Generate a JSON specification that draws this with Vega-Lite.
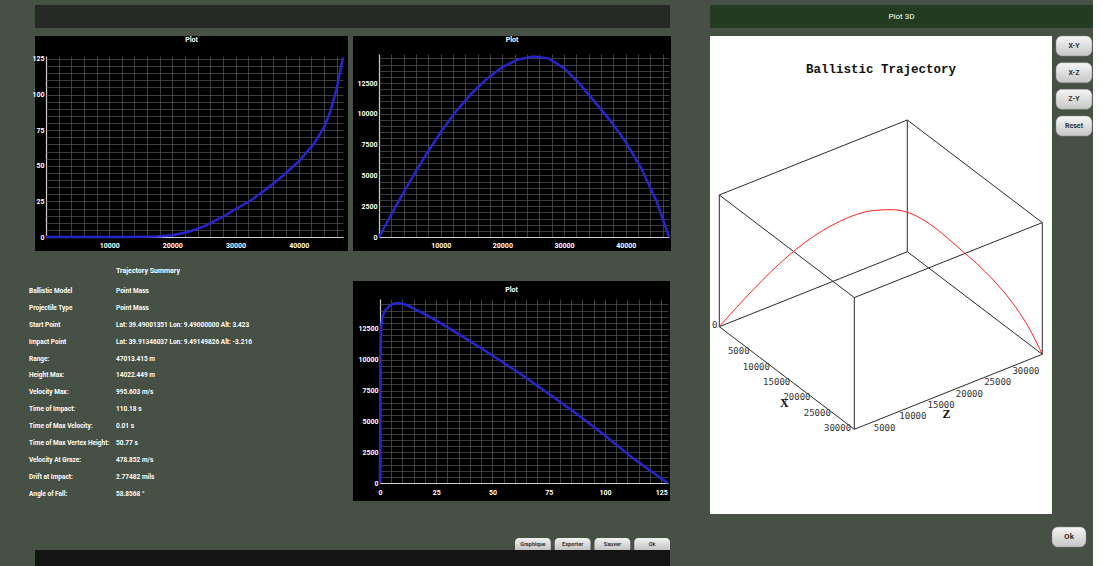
{
  "$schema": "https://vega.github.io/schema/vega-lite/v6.json",
  "background": "#465045",
  "padding": {"left": 29, "top": 5, "right": 0, "bottom": 0},
  "config": {
    "font": "Roboto",
    "view": {"stroke": null},
    "axis": {"labelColor": "#ffffff", "labelFontSize": 7, "labelFontWeight": "bold", "domain": false, "grid": false,
      "tickColor": {"condition": {"test": "datum.value === 0", "value": "#d0d0d0"}, "value": "#575757"},
      "tickWidth": {"condition": {"test": "datum.value === 0", "value": 1.2}, "value": 0.7},
      "labelOverlap": false, "labelFlush": false},
    "title": {"color": "#ffffff", "fontSize": 7, "fontWeight": "bold"}
  },
  "datasets": {
    "p1": [
      {"range": 0, "v": 0}, {"range": 2500, "v": 0}, {"range": 5000, "v": 0}, {"range": 7500, "v": 0}, {"range": 10000, "v": 0},
      {"range": 12500, "v": 0}, {"range": 15000, "v": 0.1}, {"range": 17500, "v": 0.4}, {"range": 20000, "v": 1.2}, {"range": 22500, "v": 3.5},
      {"range": 25000, "v": 7.5}, {"range": 27500, "v": 13}, {"range": 30000, "v": 19.5}, {"range": 32500, "v": 26}, {"range": 35000, "v": 34},
      {"range": 37500, "v": 43}, {"range": 40000, "v": 53}, {"range": 42500, "v": 66}, {"range": 44000, "v": 77}, {"range": 45000, "v": 88},
      {"range": 46000, "v": 104}, {"range": 47013, "v": 126}
    ],
    "p2": [
      {"range": 0, "alt": 0}, {"range": 2500, "alt": 2300}, {"range": 5000, "alt": 4500}, {"range": 7500, "alt": 6600}, {"range": 10000, "alt": 8500},
      {"range": 12500, "alt": 10200}, {"range": 15000, "alt": 11650}, {"range": 17500, "alt": 12850}, {"range": 20000, "alt": 13800}, {"range": 22500, "alt": 14400},
      {"range": 25000, "alt": 14650}, {"range": 27500, "alt": 14500}, {"range": 30000, "alt": 13700}, {"range": 32500, "alt": 12450}, {"range": 35000, "alt": 10950},
      {"range": 37500, "alt": 9450}, {"range": 40000, "alt": 7700}, {"range": 42500, "alt": 5600}, {"range": 45000, "alt": 2900}, {"range": 47013, "alt": 0}
    ],
    "p3": [
      {"t": 0, "alt": 0}, {"t": 0.1, "alt": 5500}, {"t": 0.25, "alt": 11000}, {"t": 0.5, "alt": 12600}, {"t": 1, "alt": 13400},
      {"t": 2, "alt": 13950}, {"t": 4, "alt": 14350}, {"t": 6, "alt": 14550}, {"t": 8, "alt": 14600}, {"t": 10, "alt": 14550},
      {"t": 12.5, "alt": 14400}, {"t": 15, "alt": 14150}, {"t": 20, "alt": 13700}, {"t": 25, "alt": 13180}, {"t": 37.5, "alt": 11800},
      {"t": 50, "alt": 10350}, {"t": 62.5, "alt": 8850}, {"t": 75, "alt": 7250}, {"t": 87.5, "alt": 5600}, {"t": 100, "alt": 3850},
      {"t": 112.5, "alt": 2000}, {"t": 127.8, "alt": 0}
    ],
    "summary": [
      {"label": "Ballistic Model", "value": "Point Mass"},
      {"label": "Projectile Type", "value": "Point Mass"},
      {"label": "Start Point", "value": "Lat: 39.49001351  Lon: 9.49000000  Alt: 3.423"},
      {"label": "Impact Point", "value": "Lat: 39.91346037  Lon: 9.49149826  Alt: -3.216"},
      {"label": "Range:", "value": "47013.415 m"},
      {"label": "Height Max:", "value": "14022.449 m"},
      {"label": "Velocity Max:", "value": "995.603 m/s"},
      {"label": "Time of Impact:", "value": "110.18 s"},
      {"label": "Time of Max Velocity:", "value": "0.01 s"},
      {"label": "Time of Max Vertex Height:", "value": "50.77 s"},
      {"label": "Velocity At Graze:", "value": "478.852 m/s"},
      {"label": "Drift at Impact:", "value": "2.77482 mils"},
      {"label": "Angle of Fall:", "value": "58.8568 °"}
    ],
    "box3d": [
      {"edge": "e1", "X": 0, "Y": 0, "Z": 0}, {"edge": "e1", "X": 33243, "Y": 0, "Z": 0},
      {"edge": "e2", "X": 33243, "Y": 0, "Z": 0}, {"edge": "e2", "X": 33243, "Y": 0, "Z": 33243},
      {"edge": "e3", "X": 33243, "Y": 0, "Z": 33243}, {"edge": "e3", "X": 0, "Y": 0, "Z": 33243},
      {"edge": "e4", "X": 0, "Y": 0, "Z": 33243}, {"edge": "e4", "X": 0, "Y": 0, "Z": 0},
      {"edge": "e5", "X": 0, "Y": 14650, "Z": 0}, {"edge": "e5", "X": 33243, "Y": 14650, "Z": 0},
      {"edge": "e6", "X": 33243, "Y": 14650, "Z": 0}, {"edge": "e6", "X": 33243, "Y": 14650, "Z": 33243},
      {"edge": "e7", "X": 33243, "Y": 14650, "Z": 33243}, {"edge": "e7", "X": 0, "Y": 14650, "Z": 33243},
      {"edge": "e8", "X": 0, "Y": 14650, "Z": 33243}, {"edge": "e8", "X": 0, "Y": 14650, "Z": 0},
      {"edge": "e9", "X": 0, "Y": 0, "Z": 0}, {"edge": "e9", "X": 0, "Y": 14650, "Z": 0},
      {"edge": "e10", "X": 33243, "Y": 0, "Z": 0}, {"edge": "e10", "X": 33243, "Y": 14650, "Z": 0},
      {"edge": "e11", "X": 33243, "Y": 0, "Z": 33243}, {"edge": "e11", "X": 33243, "Y": 14650, "Z": 33243},
      {"edge": "e12", "X": 0, "Y": 0, "Z": 33243}, {"edge": "e12", "X": 0, "Y": 14650, "Z": 33243}
    ],
    "xticks3d": [
      {"X": 5000, "Y": 0, "Z": 0, "t": "5000"}, {"X": 10000, "Y": 0, "Z": 0, "t": "10000"}, {"X": 15000, "Y": 0, "Z": 0, "t": "15000"},
      {"X": 20000, "Y": 0, "Z": 0, "t": "20000"}, {"X": 25000, "Y": 0, "Z": 0, "t": "25000"}, {"X": 30000, "Y": 0, "Z": 0, "t": "30000"}
    ],
    "zticks3d": [
      {"X": 33243, "Y": 0, "Z": 5000, "t": "5000"}, {"X": 33243, "Y": 0, "Z": 10000, "t": "10000"}, {"X": 33243, "Y": 0, "Z": 15000, "t": "15000"},
      {"X": 33243, "Y": 0, "Z": 20000, "t": "20000"}, {"X": 33243, "Y": 0, "Z": 25000, "t": "25000"}, {"X": 33243, "Y": 0, "Z": 30000, "t": "30000"}
    ],
    "names3d": [
      {"X": 17000, "Y": 0, "Z": 0, "t": "X"}, {"X": 33243, "Y": 0, "Z": 17000, "t": "Z"}
    ],
    "zero3d": [
      {"X": 0, "Y": 0, "Z": 0, "t": "0"}
    ]
  },
  "spacing": 35,
  "hconcat": [
    {
      "spacing": 7,
      "vconcat": [
        {
          "width": 635, "height": 23,
          "view": {"fill": "#272927", "stroke": null},
          "data": {"values": [{"t": ""}]},
          "mark": {"type": "text", "color": "#ffffff"},
          "encoding": {"text": {"field": "t"}}
        },
        {
          "spacing": 16,
          "vconcat": [
            {
              "spacing": 4,
              "hconcat": [
                {
                  "title": {"text": "Plot", "offset": -6.5, "frame": "group"},
                  "width": 313, "height": 215,
                  "view": {"fill": "#000000", "stroke": null},
                  "data": {"name": "p1"},
                  "mark": {"type": "line", "color": "#2626cc", "strokeWidth": 2.5},
                  "encoding": {
                    "x": {"field": "range", "type": "quantitative", "title": null, "scale": {"domain": [-1741, 47804], "nice": false, "zero": false},
                      "axis": {"offset": -14, "tickSize": -181, "labelPadding": 185,
                        "values": [0,2000,4000,6000,8000,10000,12000,14000,16000,18000,20000,22000,24000,26000,28000,30000,32000,34000,36000,38000,40000,42000,44000,46000],
                        "labelExpr": "datum.value % 10000 === 0 && datum.value > 0 ? format(datum.value, 'd') : ''"}},
                    "y": {"field": "v", "type": "quantitative", "title": null, "scale": {"domain": [-9.83, 141.15], "nice": false, "zero": false},
                      "axis": {"offset": -11, "tickSize": -297, "labelPadding": 299,
                        "values": [0,5,10,15,20,25,30,35,40,45,50,55,60,65,70,75,80,85,90,95,100,105,110,115,120,125],
                        "labelExpr": "datum.value % 25 === 0 ? format(datum.value, 'd') : ''"}}
                  }
                },
                {
                  "title": {"text": "Plot", "offset": -6.5, "frame": "group"},
                  "width": 318, "height": 215,
                  "view": {"fill": "#000000", "stroke": null},
                  "data": {"name": "p2"},
                  "mark": {"type": "line", "color": "#2626cc", "strokeWidth": 2.5},
                  "encoding": {
                    "x": {"field": "range", "type": "quantitative", "title": null, "scale": {"domain": [-4215, 47337], "nice": false, "zero": false},
                      "axis": {"offset": -14, "tickSize": -183, "labelPadding": 187,
                        "values": [0,2000,4000,6000,8000,10000,12000,14000,16000,18000,20000,22000,24000,26000,28000,30000,32000,34000,36000,38000,40000,42000,44000,46000],
                        "labelExpr": "datum.value % 10000 === 0 && datum.value > 0 ? format(datum.value, 'd') : ''"}},
                    "y": {"field": "alt", "type": "quantitative", "title": null, "scale": {"domain": [-1136, 16315], "nice": false, "zero": false},
                      "axis": {"offset": -26, "tickSize": -290, "labelPadding": 292,
                        "values": [0,500,1000,1500,2000,2500,3000,3500,4000,4500,5000,5500,6000,6500,7000,7500,8000,8500,9000,9500,10000,10500,11000,11500,12000,12500,13000,13500,14000,14500],
                        "labelExpr": "datum.value % 2500 === 0 ? format(datum.value, 'd') : ''"}}
                  }
                }
              ]
            },
            {
              "spacing": 37,
              "vconcat": [
                {
                  "spacing": 97,
                  "hconcat": [
                    {
                      "title": {"text": "Trajectory Summary", "anchor": "start", "frame": "group", "dx": 81, "offset": 7},
                      "width": 87, "height": 220,
                      "data": {"name": "summary"},
                      "transform": [{"fold": ["label", "value"], "as": ["col", "txt"]}],
                      "mark": {"type": "text", "align": "left", "baseline": "middle", "color": "#ffffff", "fontSize": 6.5, "fontWeight": "bold"},
                      "encoding": {
                        "x": {"field": "col", "type": "nominal", "sort": null, "scale": {"type": "point", "padding": 0, "range": [-6, 81]}, "axis": null},
                        "y": {"field": "label", "type": "nominal", "sort": null, "scale": {"type": "point", "padding": 0.509, "align": 0.581}, "axis": null},
                        "text": {"field": "txt"}
                      }
                    },
                    {
                      "title": {"text": "Plot", "offset": -11.5, "frame": "group"},
                      "width": 317, "height": 220,
                      "view": {"fill": "#000000", "stroke": null},
                      "data": {"name": "p3"},
                      "mark": {"type": "line", "color": "#2626cc", "strokeWidth": 2.5},
                      "encoding": {
                        "x": {"field": "t", "type": "quantitative", "title": null, "scale": {"domain": [-12, 128.89], "nice": false, "zero": false},
                          "axis": {"offset": -18, "tickSize": -184, "labelPadding": 189,
                            "values": [0,5,10,15,20,25,30,35,40,45,50,55,60,65,70,75,80,85,90,95,100,105,110,115,120,125],
                            "labelExpr": "datum.value % 25 === 0 ? format(datum.value, 'd') : ''"}},
                        "y": {"field": "alt", "type": "quantitative", "title": null, "scale": {"domain": [-1461, 16396], "nice": false, "zero": false},
                          "axis": {"offset": -27, "tickSize": -288, "labelPadding": 290,
                            "values": [0,500,1000,1500,2000,2500,3000,3500,4000,4500,5000,5500,6000,6500,7000,7500,8000,8500,9000,9500,10000,10500,11000,11500,12000,12500,13000,13500,14000,14500],
                            "labelExpr": "datum.value % 2500 === 0 ? format(datum.value, 'd') : ''"}}
                      }
                    }
                  ]
                },
                {
                  "spacing": 0,
                  "vconcat": [
                    {
                      "width": 635, "height": 12,
                      "data": {"values": [{"b": "Graphique"}, {"b": "Exporter"}, {"b": "Sauver"}, {"b": "Ok"}]},
                      "encoding": {
                        "x": {"field": "b", "type": "nominal", "sort": null, "scale": {"paddingInner": 0.1, "paddingOuter": 0, "range": [480, 635]}, "axis": null}
                      },
                      "layer": [
                        {"mark": {"type": "bar", "cornerRadiusTopLeft": 4, "cornerRadiusTopRight": 4,
                          "color": {"gradient": "linear", "x1": 0, "y1": 0, "x2": 0, "y2": 1, "stops": [{"offset": 0, "color": "#f2f2f2"}, {"offset": 1, "color": "#c4c4c4"}]}}},
                        {"mark": {"type": "text", "color": "#333333", "fontSize": 5.5, "fontWeight": "bold"}, "encoding": {"text": {"field": "b"}}}
                      ]
                    },
                    {
                      "width": 635, "height": 17,
                      "view": {"fill": "#141414", "stroke": null},
                      "data": {"values": [{"t": ""}]},
                      "mark": {"type": "text", "color": "#ffffff"},
                      "encoding": {"text": {"field": "t"}}
                    }
                  ]
                }
              ]
            }
          ]
        }
      ]
    },
    {
      "spacing": 7,
      "vconcat": [
        {
          "width": 383, "height": 23,
          "view": {"fill": "#233b21", "stroke": null},
          "data": {"values": [{"t": "Plot 3D"}]},
          "mark": {"type": "text", "color": "#ffffff", "fontSize": 8, "font": "Roboto"},
          "encoding": {"text": {"field": "t"}}
        },
        {
          "spacing": 12,
          "vconcat": [
            {
              "spacing": 3,
              "hconcat": [
                {
                  "title": {"text": "Ballistic Trajectory", "offset": -39.25, "frame": "group", "anchor": "middle", "color": "#111111", "font": "Liberation Mono", "fontWeight": "bold", "fontSize": 12.5},
                  "width": 342, "height": 478,
                  "view": {"fill": "#ffffff", "stroke": null},
                  "encoding": {
                    "x": {"field": "u", "type": "quantitative", "scale": {"domain": [-9.3, 332.7], "nice": false, "zero": false}, "axis": null},
                    "y": {"field": "v", "type": "quantitative", "scale": {"domain": [-187.3, 290.7], "nice": false, "zero": false}, "axis": null}
                  },
                  "layer": [
                    {
                      "data": {"name": "box3d"},
                      "transform": [
                        {"calculate": "datum.X * 0.004061 + datum.Z * 0.0056553", "as": "u"},
                        {"calculate": "datum.Z * 0.0022561 - datum.X * 0.0030864 + datum.Y * 0.0089898", "as": "v"}
                      ],
                      "mark": {"type": "line", "color": "#2a2a2a", "strokeWidth": 1},
                      "encoding": {"detail": {"field": "edge"}}
                    },
                    {
                      "data": {"name": "p2"},
                      "transform": [
                        {"calculate": "datum.range * 0.70711", "as": "X"},
                        {"calculate": "datum.range * 0.70711", "as": "Z"},
                        {"calculate": "datum.X * 0.004061 + datum.Z * 0.0056553", "as": "u"},
                        {"calculate": "datum.Z * 0.0022561 - datum.X * 0.0030864 + datum.alt * 0.0089898", "as": "v"}
                      ],
                      "mark": {"type": "line", "color": "#ff2020", "strokeWidth": 1, "interpolate": "monotone"}
                    },
                    {
                      "data": {"name": "xticks3d"},
                      "transform": [
                        {"calculate": "datum.X * 0.004061 + datum.Z * 0.0056553", "as": "u"},
                        {"calculate": "datum.Z * 0.0022561 - datum.X * 0.0030864 + datum.Y * 0.0089898", "as": "v"}
                      ],
                      "mark": {"type": "text", "align": "right", "baseline": "middle", "dx": 10, "dy": 9, "font": "DejaVu Sans Mono", "fontSize": 9, "color": "#333333"},
                      "encoding": {"text": {"field": "t"}}
                    },
                    {
                      "data": {"name": "zticks3d"},
                      "transform": [
                        {"calculate": "datum.X * 0.004061 + datum.Z * 0.0056553", "as": "u"},
                        {"calculate": "datum.Z * 0.0022561 - datum.X * 0.0030864 + datum.Y * 0.0089898", "as": "v"}
                      ],
                      "mark": {"type": "text", "align": "center", "baseline": "middle", "dx": 2, "dy": 9.5, "font": "DejaVu Sans Mono", "fontSize": 9, "color": "#333333"},
                      "encoding": {"text": {"field": "t"}}
                    },
                    {
                      "data": {"name": "names3d"},
                      "transform": [
                        {"calculate": "datum.X * 0.004061 + datum.Z * 0.0056553", "as": "u"},
                        {"calculate": "datum.Z * 0.0022561 - datum.X * 0.0030864 + datum.Y * 0.0089898", "as": "v"}
                      ],
                      "mark": {"type": "text", "align": "center", "baseline": "middle", "dx": -4, "dy": 23.5, "font": "Liberation Serif", "fontWeight": "bold", "fontSize": 12, "color": "#111111"},
                      "encoding": {"text": {"field": "t"}}
                    },
                    {
                      "data": {"name": "zero3d"},
                      "transform": [
                        {"calculate": "datum.X * 0.004061 + datum.Z * 0.0056553", "as": "u"},
                        {"calculate": "datum.Z * 0.0022561 - datum.X * 0.0030864 + datum.Y * 0.0089898", "as": "v"}
                      ],
                      "mark": {"type": "text", "align": "right", "baseline": "middle", "dx": -2, "dy": -2, "font": "DejaVu Sans Mono", "fontSize": 9, "color": "#333333"},
                      "encoding": {"text": {"field": "t"}}
                    }
                  ]
                },
                {
                  "width": 36, "height": 100,
                  "data": {"values": [{"b": "X-Y"}, {"b": "X-Z"}, {"b": "Z-Y"}, {"b": "Reset"}]},
                  "encoding": {
                    "y": {"field": "b", "type": "nominal", "sort": null, "scale": {"paddingInner": 0.25, "paddingOuter": 0}, "axis": null}
                  },
                  "layer": [
                    {"mark": {"type": "bar", "cornerRadius": 6, "stroke": "#8a8a8a", "strokeWidth": 0.5,
                      "color": {"gradient": "linear", "x1": 0, "y1": 0, "x2": 0, "y2": 1, "stops": [{"offset": 0, "color": "#f6f6f6"}, {"offset": 1, "color": "#c6c6c6"}]}}},
                    {"mark": {"type": "text", "color": "#333333", "fontSize": 7, "fontWeight": "bold"}, "encoding": {"text": {"field": "b"}}}
                  ]
                }
              ]
            },
            {
              "width": 376, "height": 20,
              "data": {"values": [{"b": "Ok"}]},
              "encoding": {
                "x": {"field": "b", "type": "nominal", "scale": {"paddingInner": 0, "paddingOuter": 0, "range": [342, 376]}, "axis": null}
              },
              "layer": [
                {"mark": {"type": "bar", "cornerRadius": 6, "stroke": "#8a8a8a", "strokeWidth": 0.5,
                  "color": {"gradient": "linear", "x1": 0, "y1": 0, "x2": 0, "y2": 1, "stops": [{"offset": 0, "color": "#f6f6f6"}, {"offset": 1, "color": "#c6c6c6"}]}}},
                {"mark": {"type": "text", "color": "#333333", "fontSize": 8, "fontWeight": "bold"}, "encoding": {"text": {"field": "b"}}}
              ]
            }
          ]
        }
      ]
    }
  ]
}
